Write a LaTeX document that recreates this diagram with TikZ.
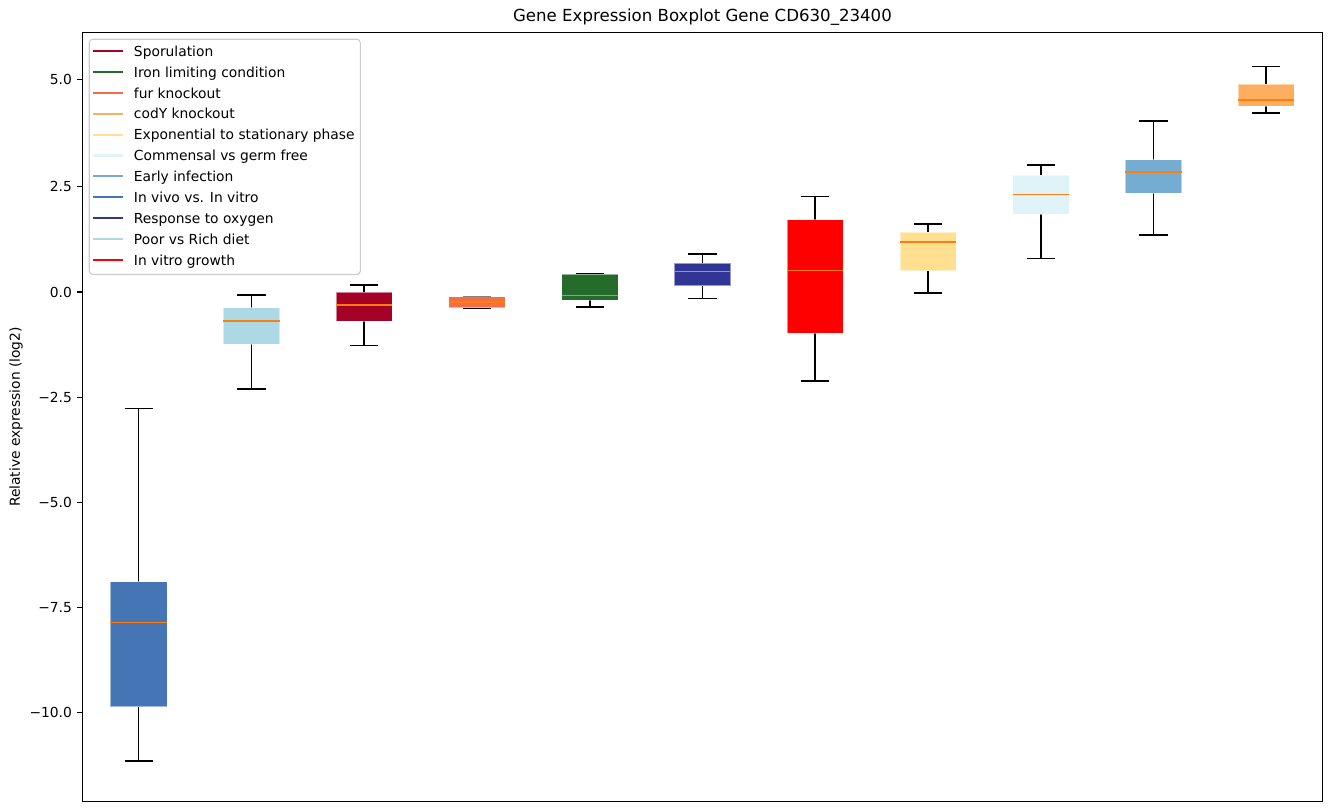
\documentclass[tikz,border=0pt]{standalone}
\usepackage{fontspec}
\setmainfont{DejaVu Sans}
\usepackage{tikz}
\usetikzlibrary{positioning}

\definecolor{cspor}{HTML}{A50026}
\definecolor{ciron}{HTML}{246B2C}
\definecolor{cfur}{HTML}{F46D43}
\definecolor{ccody}{HTML}{FDAE61}
\definecolor{cexpo}{HTML}{FEE090}
\definecolor{ccomm}{HTML}{E0F3F8}
\definecolor{cearly}{HTML}{74ADD1}
\definecolor{cvivo}{HTML}{4575B4}
\definecolor{coxy}{HTML}{313695}
\definecolor{cdiet}{HTML}{ADD8E6}
\definecolor{cgrow}{HTML}{FF0000}
\definecolor{cmed}{HTML}{FF7F0E}
\definecolor{cframe}{HTML}{CCCCCC}

\tikzset{
    spine/.style = {line width=0.8pt,draw=black},
    tick/.style = {line width=0.8pt,draw=black},
    ticklab/.style = {anchor=east,inner sep=0pt,font=\fontsize{10}{12}\selectfont},
    whisk/.style = {line width=1.15pt,black},
    boxf/.style = {draw=white,draw opacity=0.5,line width=0.4pt},
    medl/.style = {line width=1.2pt,cmed},
    legbox/.style = {draw=cframe,line width=0.8pt,rounded corners=2.5pt,fill=white,fill opacity=0.8},
    legl/.style = {line width=1.5pt},
    legt/.style = {anchor=mid west,inner sep=0pt,font=\fontsize{10}{12}\selectfont},
    titl/.style = {inner sep=0pt,font=\fontsize{12}{14}\selectfont}
}

% one box: position, colour, low whisker, q1, median, q3, high whisker
\newcommand{\gbox}[7]{%
  \draw[whisk] (#1,#3) -- (#1,#4) (#1,#6) -- (#1,#7);
  \draw[whisk] (#1-0.125,#3) -- (#1+0.125,#3) (#1-0.125,#7) -- (#1+0.125,#7);
  \path[boxf,fill=#2] (#1-0.25,#4) rectangle (#1+0.25,#6);
  \draw[medl] (#1-0.25,#5) -- (#1+0.25,#5);
}

\begin{document}
\begin{tikzpicture}[x=0.7227pt,y=-0.7227pt]
\useasboundingbox (0,0) rectangle (1331,812);
%
\node[titl] (title) at (702.5,17.5) {Gene Expression Boxplot Gene CD630\_23400};
\node[titl,rotate=90,font=\fontsize{10}{12}\selectfont] (ylab) at (16,417) {Relative expression (log2)};
%
% boxes (data coordinates)
\begin{scope}[shift={(25.92,292)},x=81.49pt,y=30.39pt]
\gbox{1}{cvivo}{-11.15}{-9.86}{-7.86}{-6.89}{-2.77}
\gbox{2}{cdiet}{-2.31}{-1.24}{-0.69}{-0.37}{-0.07}
\gbox{3}{cspor}{-1.27}{-0.69}{-0.31}{0.00}{0.17}
\gbox{4}{cfur}{-0.38}{-0.37}{-0.24}{-0.11}{-0.11}
\gbox{5}{ciron}{-0.36}{-0.19}{-0.08}{0.43}{0.44}
\gbox{6}{coxy}{-0.15}{0.15}{0.49}{0.69}{0.91}
\gbox{7}{cgrow}{-2.12}{-0.98}{0.515}{1.72}{2.27}
\gbox{8}{cexpo}{-0.03}{0.51}{1.19}{1.43}{1.62}
\gbox{9}{ccomm}{0.80}{1.86}{2.32}{2.78}{3.02}
\gbox{10}{cearly}{1.35}{2.35}{2.85}{3.15}{4.07}
\gbox{11}{ccody}{4.25}{4.42}{4.57}{4.95}{5.36}
%
% y ticks
\draw[tick] (0.5,5.05) -- ++(-3.54pt,0) node[ticklab,left=3.54pt] (t1) {5.0};
\draw[tick] (0.5,2.5) -- ++(-3.54pt,0) node[ticklab,left=3.54pt] (t2) {2.5};
\draw[tick] (0.5,0) -- ++(-3.54pt,0) node[ticklab,left=3.54pt] (t3) {0.0};
\draw[tick] (0.5,-2.5) -- ++(-3.54pt,0) node[ticklab,left=3.54pt] (t4) {−2.5};
\draw[tick] (0.5,-5) -- ++(-3.54pt,0) node[ticklab,left=3.54pt] (t5) {−5.0};
\draw[tick] (0.5,-7.5) -- ++(-3.54pt,0) node[ticklab,left=3.54pt] (t6) {−7.5};
\draw[tick] (0.5,-10) -- ++(-3.54pt,0) node[ticklab,left=3.54pt] (t7) {−10.0};
\end{scope}
%
\draw[spine] (82.3,32.3) rectangle (1322.7,801.7);
%
% legend
\path[legbox] (89.3,39.3) rectangle (360.3,274.5);
\draw[legl,cspor] (93,51) -- (122.7,51);
\node[legt] (l1) at (133.7,52.5) {Sporulation};
\draw[legl,ciron] (93,71.9) -- (122.7,71.9);
\node[legt] (l2) at (133.7,73.4) {Iron limiting condition};
\draw[legl,cfur] (93,92.8) -- (122.7,92.8);
\node[legt] (l3) at (133.7,94.3) {fur knockout};
\draw[legl,ccody] (93,113.7) -- (122.7,113.7);
\node[legt] (l4) at (133.7,115.2) {codY knockout};
\draw[legl,cexpo] (93,134.6) -- (122.7,134.6);
\node[legt] (l5) at (133.7,136.1) {Exponential to stationary phase};
\draw[legl,ccomm] (93,155.5) -- (122.7,155.5);
\node[legt] (l6) at (133.7,157) {Commensal vs germ free};
\draw[legl,cearly] (93,176.4) -- (122.7,176.4);
\node[legt] (l7) at (133.7,177.9) {Early infection};
\draw[legl,cvivo] (93,197.3) -- (122.7,197.3);
\node[legt] (l8) at (133.7,198.8) {In vivo vs. In vitro};
\draw[legl,coxy] (93,218.2) -- (122.7,218.2);
\node[legt] (l9) at (133.7,219.7) {Response to oxygen};
\draw[legl,cdiet] (93,239.1) -- (122.7,239.1);
\node[legt] (l10) at (133.7,240.6) {Poor vs Rich diet};
\draw[legl,cgrow] (93,260) -- (122.7,260);
\node[legt] (l11) at (133.7,261.5) {In vitro growth};

\end{tikzpicture}
\end{document}
